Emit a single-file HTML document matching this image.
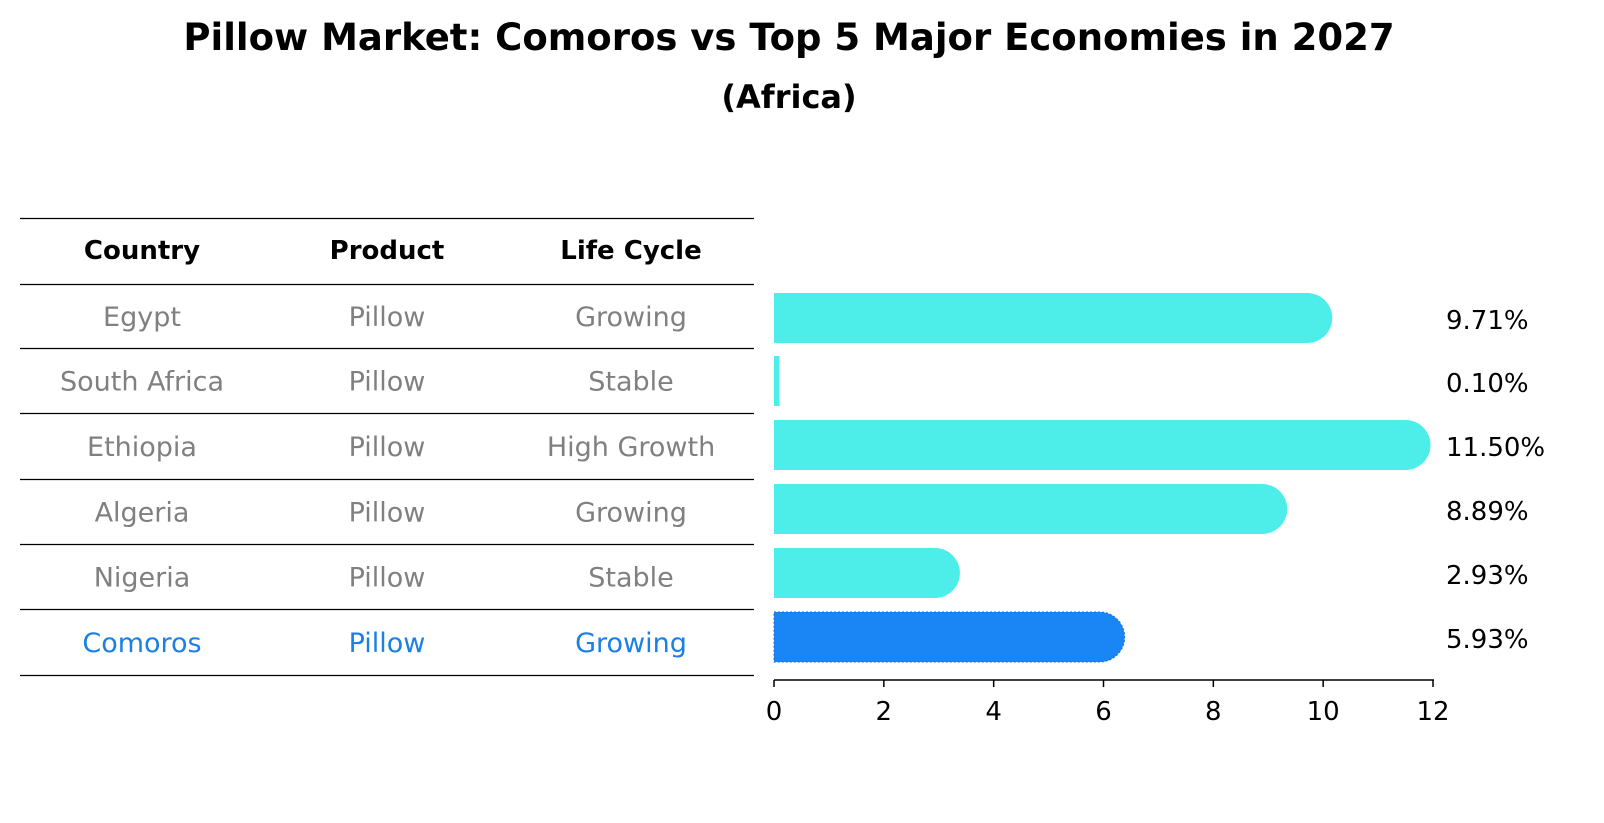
<!DOCTYPE html>
<html><head><meta charset="utf-8"><style>
body{margin:0;background:#fff;}
svg{display:block;font-family:"DejaVu Sans","Liberation Sans",sans-serif;}
</style></head><body>
<svg id="chart" width="1604" height="823" viewBox="0 0 1604 823">
<text x="789" y="50" text-anchor="middle" font-size="37" font-weight="bold">Pillow Market: Comoros vs Top 5 Major Economies in 2027</text>
<text x="789" y="108" text-anchor="middle" font-size="32" font-weight="bold">(Africa)</text>
<g id="table"></g>
<g id="bars"></g>
</svg>
<script>
const countries=["Egypt","South Africa","Ethiopia","Algeria","Nigeria","Comoros"];
const products=["Pillow","Pillow","Pillow","Pillow","Pillow","Pillow"];
const lifeCycles=["Growing","Stable","High Growth","Growing","Stable","Growing"];
const growth=[9.71,0.10,11.50,8.89,2.93,5.93];
const ticks=[0,2,4,6,8,10,12];
const NS="http://www.w3.org/2000/svg";
function mk(t,a,p){const e=document.createElementNS(NS,t);for(const k in a)e.setAttribute(k,a[k]);p.appendChild(e);return e;}
const table=document.getElementById('table'),bars=document.getElementById('bars');
const lineYs=[218,284,348,413,479,544,609,675];
lineYs.forEach((y,i)=>{const l=mk('line',{x1:20,x2:754,y1:y+0.5,y2:y+0.5,stroke:'#000','stroke-width':1.2},table);

});
const colX=[142,387,631];
["Country","Product","Life Cycle"].forEach((h,i)=>{const t=mk('text',{x:colX[i],y:259,'text-anchor':'middle','font-size':26,'font-weight':'bold'},table);t.textContent=h;

});
const rowY=i=>(lineYs[i+1]+lineYs[i+2])/2;
countries.forEach((c,i)=>{const col=i===countries.length-1?'#1a80e6':'#808080';
[c,products[i],lifeCycles[i]].forEach((v,j)=>{const t=mk('text',{x:colX[j],y:rowY(i)+10,'text-anchor':'middle','font-size':27,fill:col},table);t.textContent=v;

});});
const x0=774,x1=1433,xmax=12;
const xs=v=>x0+(x1-x0)*v/xmax;
const barC=[318,381,445,509,573,637];
const bh=50,r=25;
growth.forEach((v,i)=>{const last=i===growth.length-1;const col=last?'#1a85f5':'#4deeea';
const yc=barC[i];const xe=xs(v);
const d=v<0.5?`M${x0},${yc-bh/2}H${xe}V${yc+bh/2}H${x0}Z`:`M${x0},${yc-bh/2}H${xe}A${r},${r} 0 0 1 ${xe},${yc+bh/2}H${x0}Z`;
const p=mk('path',{d:d,fill:col},bars);
if(last){p.setAttribute('stroke','#1a6fd0');p.setAttribute('stroke-dasharray','2,2');p.setAttribute('stroke-width','1');}


const t=mk('text',{x:1446,y:yc+11,'font-size':26},bars);t.textContent=v.toFixed(2)+'%';

});
const ax=mk('line',{x1:x0,x2:x1+1,y1:680,y2:680,stroke:'#000','stroke-width':1.5},bars);


ticks.forEach(tk=>{const l=mk('line',{x1:xs(tk),x2:xs(tk),y1:680,y2:687,stroke:'#000','stroke-width':1.5},bars);


const t=mk('text',{x:xs(tk),y:720,'text-anchor':'middle','font-size':26},bars);t.textContent=tk;

});
</script>
</body></html>
